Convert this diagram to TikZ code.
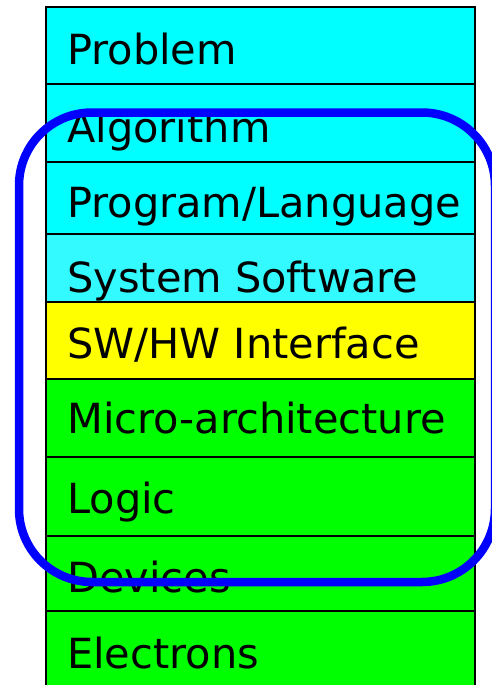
\documentclass[tikz,border=0pt]{standalone}
\usepackage{fontspec}
\setmainfont{DejaVu Sans}
\usetikzlibrary{positioning}
\definecolor{layercyan}{RGB}{0,255,255}
\definecolor{layerpale}{RGB}{51,250,255}
\definecolor{layeryellow}{RGB}{255,255,0}
\definecolor{layergreen}{RGB}{0,255,0}
\definecolor{ringblue}{RGB}{0,0,255}
\tikzset{layer/.style={
    draw=black, line width=2pt, fill=#1,
    anchor=north west, minimum width=429pt,
    inner sep=0pt, outer sep=0pt
  },
  layertext/.style={anchor=base west, inner sep=0pt,
    font=\fontsize{41.5}{49}\selectfont},
  ring/.style={draw=ringblue, line width=8.5pt, rounded corners=73pt}
}

\begin{document}
\begin{tikzpicture}[x=1pt,y=-1pt]
      \useasboundingbox (0,0) rectangle (492,685);
      \clip (0,0) rectangle (492,685);
      % the layers, top to bottom
      \node[layer=layercyan, minimum height=77pt] (problem) at (46,7) {};
      \node[layer=layercyan, minimum height=78pt] (algorithm) at (46,84) {};
      \node[layer=layercyan, minimum height=72pt] (program) at (46,162) {};
      \node[layer=layerpale, minimum height=68pt] (system) at (46,234) {};
      \node[layer=layeryellow, minimum height=77pt] (interface) at (46,302) {};
      \node[layer=layergreen, minimum height=78pt] (micro) at (46,379) {};
      \node[layer=layergreen, minimum height=79pt] (logic) at (46,457) {};
      \node[layer=layergreen, minimum height=75pt] (devices) at (46,536) {};
      \node[layer=layergreen, minimum height=80pt] (electrons) at (46,611) {};
      % names of the layers
      \node[layertext] (problemlbl) at (67,65) {Problem};
      \node[layertext] (algorithmlbl) at (67,142) {Algorithm};
      \node[layertext] (programlbl) at (67,217) {Program/Language};
      \node[layertext] (systemlbl) at (67,292) {System Software};
      \node[layertext] (interfacelbl) at (67,358) {SW/HW Interface};
      \node[layertext] (microlbl) at (67,433) {Micro-architecture};
      \node[layertext] (logiclbl) at (67,513) {Logic};
      \node[layertext] (deviceslbl) at (67,592) {Devices};
      \node[layertext] (electronslbl) at (67,668) {Electrons};
      % the ring round the middle layers
      \draw[ring] (19,112.5) rectangle (495,582);
    \end{tikzpicture}
\end{document}
